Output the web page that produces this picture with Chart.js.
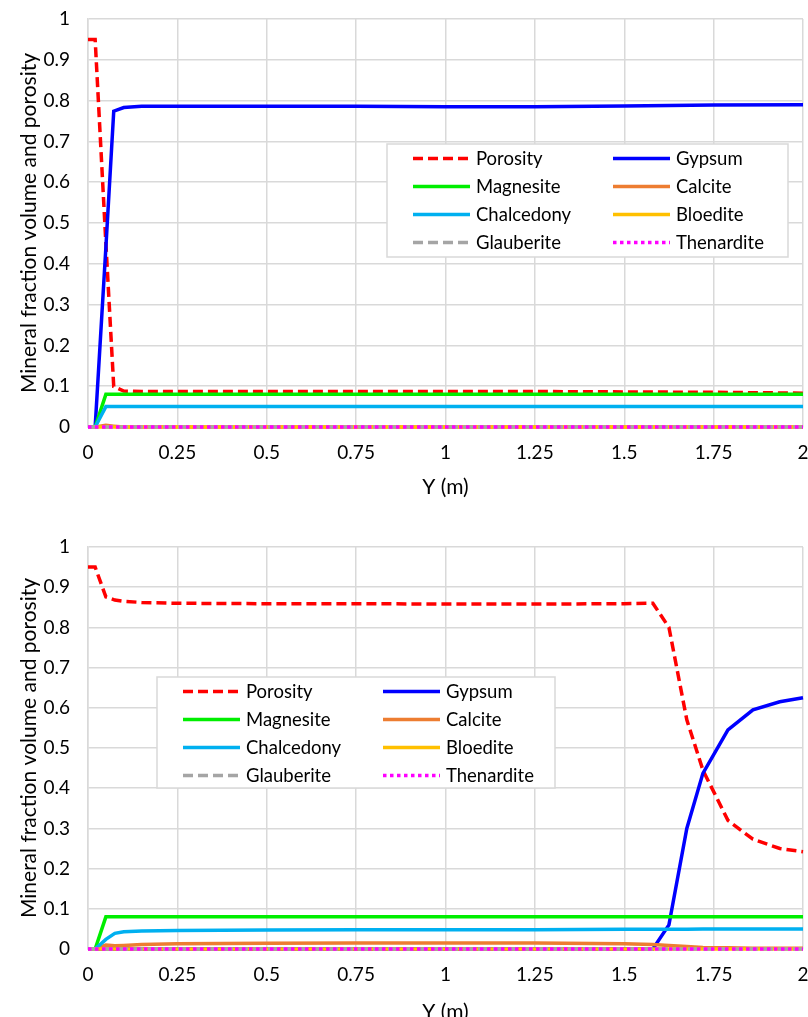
<!DOCTYPE html>
<html>
<head>
<meta charset="utf-8">
<script src="https://cdn.jsdelivr.net/npm/chart.js@4"></script>
<style>
  html, body { margin: 0; padding: 0; background: #fff; overflow: hidden; width: 808px; height: 1017px; }
  #topWrap { position: absolute; left: 0; top: 0; width: 808px; height: 510px; }
  #bottomWrap { position: absolute; left: 0; top: 510px; width: 808px; height: 525px; }
</style>
</head>
<body>
<div id="topWrap"><canvas id="chartTop"></canvas></div>
<div id="bottomWrap"><canvas id="chartBottom"></canvas></div>
<script>
// series, in legend order (row by row)
const seriesNames = ["Porosity", "Gypsum", "Magnesite", "Calcite", "Chalcedony", "Bloedite", "Glauberite", "Thenardite"];
const seriesColors = ["#ff0000", "#0000ff", "#00ee00", "#ed7d31", "#00b0f0", "#ffc000", "#a5a5a5", "#ff00ff"];
const seriesDash = [[10, 5], [], [], [], [], [], [10, 5], [3.5, 3.5]];

const xTicks = [0, 0.25, 0.5, 0.75, 1, 1.25, 1.5, 1.75, 2];
const yTicks = [0, 0.1, 0.2, 0.3, 0.4, 0.5, 0.6, 0.7, 0.8, 0.9, 1];

// upper chart
const topX          = [0,    0.02, 0.05,  0.072, 0.1,   0.15,  0.25,  0.5,   0.75,  1,     1.25,  1.5,   1.75,  2];
const topPorosity   = [0.95, 0.95, 0.45,  0.099, 0.088, 0.087, 0.087, 0.087, 0.087, 0.087, 0.087, 0.086, 0.085, 0.083];
const topGypsum     = [0,    0,    0.44,  0.774, 0.783, 0.786, 0.786, 0.786, 0.786, 0.785, 0.785, 0.787, 0.789, 0.79];
const topMagnesite  = [0,    0,    0.08,  0.08,  0.08,  0.08,  0.08,  0.08,  0.08,  0.08,  0.08,  0.08,  0.08,  0.08];
const topCalcite    = [0,    0,    0.004, 0.002, 0,     0,     0,     0,     0,     0,     0,     0,     0,     0];
const topChalcedony = [0,    0,    0.05,  0.05,  0.05,  0.05,  0.05,  0.05,  0.05,  0.05,  0.05,  0.05,  0.05,  0.05];
const topBloedite   = [0,    0,    0,     0,     0,     0,     0,     0,     0,     0,     0,     0,     0,     0];
const topGlauberite = [0,    0,    0,     0,     0,     0,     0,     0,     0,     0,     0,     0,     0,     0];
const topThenardite = [0,    0,    0,     0,     0,     0,     0,     0,     0,     0,     0,     0,     0,     0];

// lower chart
const botX          = [0,    0.02, 0.05,  0.075, 0.1,   0.15,  0.25,  0.5,   0.75,  1,     1.25,  1.5,   1.58,  1.625, 1.675, 1.72,  1.79,  1.86,  1.935, 2];
const botPorosity   = [0.95, 0.95, 0.876, 0.868, 0.865, 0.862, 0.86,  0.859, 0.859, 0.858, 0.858, 0.859, 0.86,  0.8,   0.57,  0.445, 0.32,  0.273, 0.25,  0.242];
const botGypsum     = [0,    0,    0,     0,     0,     0,     0,     0,     0,     0,     0,     0,     0,     0.06,  0.3,   0.437, 0.545, 0.595, 0.615, 0.625];
const botMagnesite  = [0,    0,    0.08,  0.08,  0.08,  0.08,  0.08,  0.08,  0.08,  0.08,  0.08,  0.08,  0.08,  0.08,  0.08,  0.08,  0.08,  0.08,  0.08,  0.08];
const botCalcite    = [0,    0,    0.01,  0.008, 0.009, 0.011, 0.013, 0.014, 0.015, 0.015, 0.015, 0.013, 0.011, 0.009, 0.006, 0.004, 0.003, 0.002, 0.002, 0.002];
const botChalcedony = [0,    0,    0.024, 0.039, 0.043, 0.045, 0.046, 0.047, 0.048, 0.048, 0.048, 0.049, 0.049, 0.049, 0.049, 0.05,  0.05,  0.05,  0.05,  0.05];
const botBloedite   = [0,    0,    0,     0,     0,     0,     0,     0,     0,     0,     0,     0,     0,     0,     0,     0,     0,     0,     0,     0];
const botGlauberite = [0,    0,    0,     0,     0,     0,     0,     0,     0,     0,     0,     0,     0,     0,     0,     0,     0,     0,     0,     0];
const botThenardite = [0,    0,    0,     0,     0,     0,     0,     0,     0,     0,     0,     0,     0,     0,     0,     0,     0,     0,     0,     0];

const FONT = "Lato, 'Open Sans', sans-serif";

function makeDatasets(xs, seriesList) {
  return seriesList.map((ys, i) => ({
    label: seriesNames[i],
    data: xs.map((x, j) => ({ x: x, y: ys[j] })),
    borderColor: seriesColors[i],
    backgroundColor: seriesColors[i],
    borderDash: seriesDash[i],
    borderWidth: 3.5,
    pointRadius: 0,
    fill: false,
    tension: 0,
    clip: false,
    order: seriesList.length - i
  }));
}

// legend drawn as a framed box inside the plot area
const boxLegend = {
  id: "boxLegend",
  afterDatasetsDraw(chart, args, opts) {
    const ctx = chart.ctx;
    ctx.save();
    ctx.fillStyle = "#ffffff";
    ctx.fillRect(opts.left, opts.top, opts.width, opts.height);
    ctx.strokeStyle = "#d9d9d9";
    ctx.lineWidth = 1.5;
    ctx.strokeRect(opts.left, opts.top, opts.width, opts.height);
    ctx.font = "18.5px " + FONT;
    ctx.textBaseline = "middle";
    chart.data.datasets.forEach((ds, i) => {
      const col = i % 2, row = Math.floor(i / 2);
      const x0 = opts.left + opts.lineStart + col * opts.colGap;
      const y0 = opts.top + opts.firstRow + row * opts.rowHeight;
      ctx.strokeStyle = ds.borderColor;
      ctx.lineWidth = 3.5;
      ctx.setLineDash(ds.borderDash || []);
      ctx.beginPath();
      ctx.moveTo(x0, y0);
      ctx.lineTo(x0 + opts.lineLen, y0);
      ctx.stroke();
      ctx.setLineDash([]);
      ctx.fillStyle = "#000000";
      ctx.fillText(ds.label, x0 + opts.lineLen + 6, y0 + 1);
    });
    ctx.restore();
  }
};

function fmt(v) {
  return String(+Number(v).toFixed(2));
}

function makeChart(canvasId, xs, seriesList, padTop, xAxisHeight, legendPos) {
  const ctx = document.getElementById(canvasId).getContext("2d");
  return new Chart(ctx, {
    type: "line",
    data: { datasets: makeDatasets(xs, seriesList) },
    plugins: [boxLegend],
    options: {
      responsive: true,
      maintainAspectRatio: false,
      animation: false,
      layout: { padding: { top: padTop, right: 5, left: 0, bottom: 0 } },
      plugins: {
        legend: { display: false },
        tooltip: { enabled: false },
        boxLegend: Object.assign({ lineStart: 26, lineLen: 57, colGap: 200, rowHeight: 28, firstRow: 14.5 }, legendPos)
      },
      scales: {
        x: {
          type: "linear",
          min: 0,
          max: 2,
          afterBuildTicks: (axis) => { axis.ticks = xTicks.map(v => ({ value: v })); },
          afterFit: (axis) => { axis.height = xAxisHeight; axis.paddingLeft = 0; axis.paddingRight = 0; },
          ticks: { color: "#000", font: { family: FONT, size: 19 }, padding: 14, maxRotation: 0, callback: fmt },
          grid: { color: "#d9d9d9", lineWidth: 1.5, drawTicks: false },
          border: { color: "#d9d9d9", width: 1.5 },
          title: { display: true, text: "Y (m)", color: "#000", font: { family: FONT, size: 21 }, padding: { top: 0, bottom: 10 } }
        },
        y: {
          min: 0,
          max: 1,
          afterBuildTicks: (axis) => { axis.ticks = yTicks.map(v => ({ value: v })); },
          afterFit: (axis) => { axis.width = 88; axis.paddingTop = 0; axis.paddingBottom = 0; },
          ticks: { color: "#000", font: { family: FONT, size: 19 }, padding: 18, callback: fmt },
          grid: { color: "#d9d9d9", lineWidth: 1.5, drawTicks: false },
          border: { color: "#d9d9d9", width: 1.5 },
          title: { display: true, text: "Mineral fraction volume and porosity", color: "#000", font: { family: FONT, size: 21 }, padding: { top: 17, bottom: 0 } }
        }
      }
    }
  });
}

makeChart("chartTop", topX,
  [topPorosity, topGypsum, topMagnesite, topCalcite, topChalcedony, topBloedite, topGlauberite, topThenardite],
  19, 83, { left: 387, top: 144, width: 401, height: 113 });

makeChart("chartBottom", botX,
  [botPorosity, botGypsum, botMagnesite, botCalcite, botChalcedony, botBloedite, botGlauberite, botThenardite],
  37, 86, { left: 157, top: 167, width: 398, height: 111 });
</script>
</body>
</html>
